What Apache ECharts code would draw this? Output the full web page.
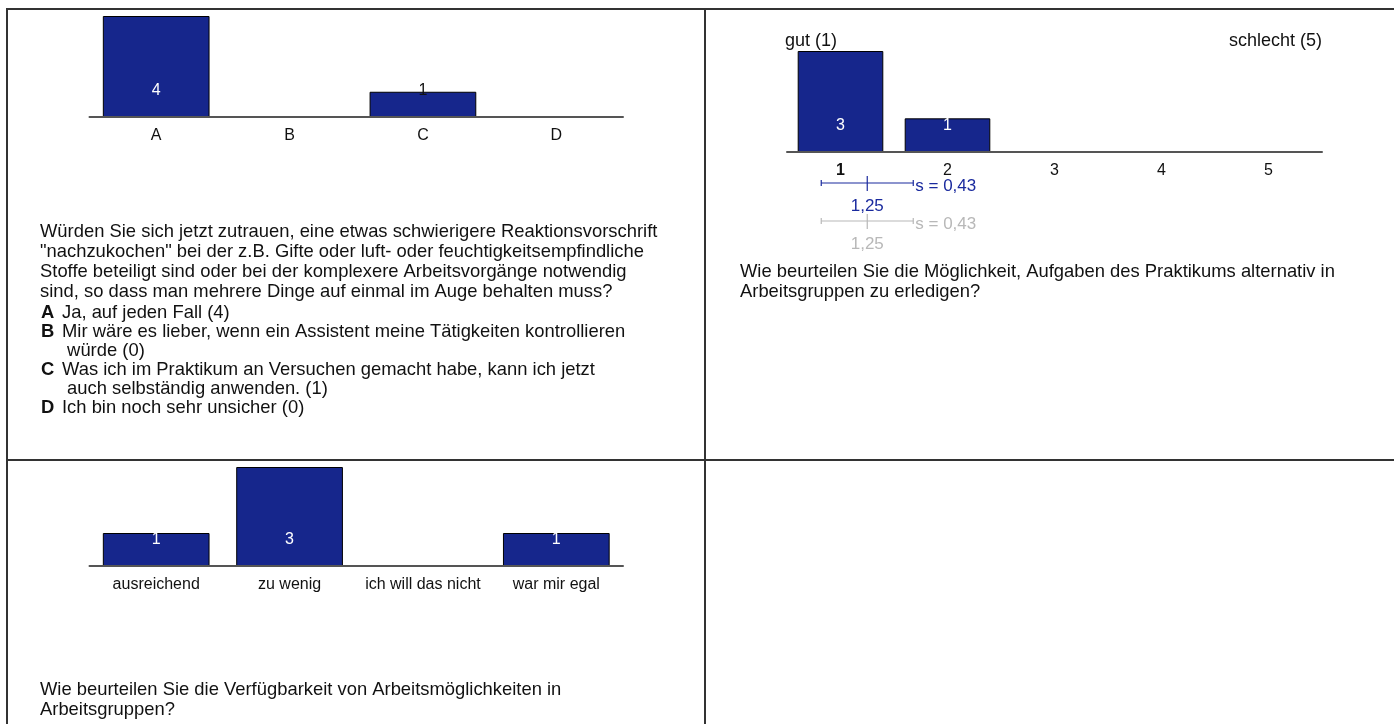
<!DOCTYPE html>
<html>
<head>
<meta charset="utf-8">
<script src="https://cdn.jsdelivr.net/npm/echarts@6/dist/echarts.min.js"></script>
<style>
html, body { margin: 0; padding: 0; background: #fff; }
#main { width: 1394px; height: 724px; }
</style>
</head>
<body>
<div id="main"></div>
<script>
// Daten der drei Fragen
var catsA = ['A', 'B', 'C', 'D'];
var valsA = [4, 0, 1, 0];
var catsB = ['1', '2', '3', '4', '5'];
var valsB = [3, 1, 0, 0, 0];
var catsC = ['ausreichend', 'zu wenig', 'ich will das nicht', 'war mir egal'];
var valsC = [1, 3, 0, 1];
// Mittelwert / Standardabweichung (Frage 2)
var meanB = [1.25, 1.25];
var sdB = [0.43, 0.43];

// Texte
var questionA = [
    'Würden Sie sich jetzt zutrauen, eine etwas schwierigere Reaktionsvorschrift',
    '"nachzukochen" bei der z.B. Gifte oder luft- oder feuchtigkeitsempfindliche',
    'Stoffe beteiligt sind oder bei der komplexere Arbeitsvorgänge notwendig',
    'sind, so dass man mehrere Dinge auf einmal im Auge behalten muss?'
];
var optionsA = [
    ['A', 'Ja, auf jeden Fall (4)'],
    ['B', 'Mir wäre es lieber, wenn ein Assistent meine Tätigkeiten kontrollieren', ' würde (0)'],
    ['C', 'Was ich im Praktikum an Versuchen gemacht habe, kann ich jetzt', ' auch selbständig anwenden. (1)'],
    ['D', 'Ich bin noch sehr unsicher (0)']
];
var questionB = [
    'Wie beurteilen Sie die Möglichkeit, Aufgaben des Praktikums alternativ in',
    'Arbeitsgruppen zu erledigen?'
];
var questionC = [
    'Wie beurteilen Sie die Verfügbarkeit von Arbeitsmöglichkeiten in',
    'Arbeitsgruppen?'
];

var FONT = '"Liberation Sans", Arial, sans-serif';
var TXT = '18.4px ' + FONT;
var BAR_COLOR = '#16268c';
var ROW_COLORS = ['#1a2a9e', '#b8b8b8'];

var chart = echarts.init(document.getElementById('main'));

function barData(vals) {
    var max = Math.max.apply(null, vals);
    return vals.map(function (v) {
        return {
            value: v,
            label: { color: v / max < 0.3 ? '#111' : '#fff' }
        };
    });
}

function barSeries(idx, vals) {
    return {
        type: 'bar',
        xAxisIndex: idx,
        yAxisIndex: idx,
        barCategoryGap: '20%',
        data: barData(vals),
        itemStyle: { color: BAR_COLOR, borderColor: '#000', borderWidth: 1 },
        label: {
            show: true,
            position: 'insideBottom',
            distance: 18,
            fontFamily: FONT,
            fontSize: 16,
            formatter: function (p) { return p.value ? String(p.value) : ''; }
        },
        emphasis: { disabled: true },
        animation: false
    };
}

function catAxis(idx, cats) {
    return {
        type: 'category',
        gridIndex: idx,
        data: cats,
        z: 5,
        axisLine: { lineStyle: { color: '#555', width: 2 } },
        axisTick: { inside: true, alignWithLabel: true, length: 5, lineStyle: { color: '#111' } },
        axisLabel: { interval: 0, color: '#111', fontFamily: FONT, fontSize: 16, margin: 11 }
    };
}

function valAxis(idx, vals) {
    return { type: 'value', gridIndex: idx, min: 0, max: Math.max.apply(null, vals), show: false };
}

function textLines(lines, x, y0, step) {
    return lines.map(function (t, i) {
        return {
            type: 'text', left: x, top: y0 + i * step,
            style: { text: t, font: TXT, fill: '#111' }
        };
    });
}

var graphics = [];
// Rahmen
var border = { stroke: '#333', lineWidth: 2 };
graphics.push({ type: 'line', shape: { x1: 7, y1: 9, x2: 1394, y2: 9 }, style: border });
graphics.push({ type: 'line', shape: { x1: 7, y1: 8, x2: 7, y2: 724 }, style: border });
graphics.push({ type: 'line', shape: { x1: 705, y1: 8, x2: 705, y2: 724 }, style: border });
graphics.push({ type: 'line', shape: { x1: 7, y1: 460, x2: 1394, y2: 460 }, style: border });

graphics = graphics.concat(textLines(questionA, 40, 223, 20));
var optY = 304;
optionsA.forEach(function (o) {
    graphics.push({ type: 'text', left: 41, top: optY, style: { text: o[0], font: 'bold ' + TXT, fill: '#111' } });
    graphics.push({ type: 'text', left: 62, top: optY, style: { text: o[1], font: TXT, fill: '#111' } });
    optY += 19;
    if (o[2]) {
        graphics.push({ type: 'text', left: 62, top: optY, style: { text: o[2], font: TXT, fill: '#111' } });
        optY += 19;
    }
});
graphics = graphics.concat(textLines(questionB, 740, 263, 20));
graphics = graphics.concat(textLines(questionC, 40, 681, 20));
graphics.push({ type: 'text', left: 785, top: 32, style: { text: 'gut (1)', font: '18px ' + FONT, fill: '#111' } });
graphics.push({ type: 'text', right: 72, top: 32, style: { text: 'schlecht (5)', font: '18px ' + FONT, fill: '#111' } });

var catsBItems = catsB.map(function (c, i) {
    return i === 0 ? { value: c, textStyle: { fontWeight: 'bold' } } : c;
});

var errData = meanB.map(function (m, i) { return [m, sdB[i], i]; });

function fmt(v) { return v.toFixed(2).replace('.', ','); }

var option = {
    backgroundColor: '#fff',
    animation: false,
    grid: [
        { left: 89.5, top: 16, width: 533.5, height: 101 },
        { left: 787, top: 51, width: 535, height: 101 },
        { left: 89.5, top: 467, width: 533.5, height: 99 }
    ],
    xAxis: [
        catAxis(0, catsA),
        catAxis(1, catsBItems),
        catAxis(2, catsC),
        { type: 'value', gridIndex: 1, min: 0.5, max: 5.5, show: false }
    ],
    yAxis: [valAxis(0, valsA), valAxis(1, valsB), valAxis(2, valsC)],
    series: [
        barSeries(0, valsA),
        barSeries(1, valsB),
        barSeries(2, valsC),
        {
            type: 'custom',
            xAxisIndex: 3,
            yAxisIndex: 1,
            clip: false,
            data: errData,
            renderItem: function (params, api) {
                var m = api.value(0), s = api.value(1), row = api.value(2);
                var c = api.coord([m, 0]);
                var lo = api.coord([m - s, 0])[0];
                var hi = api.coord([m + s, 0])[0];
                var y = c[1] + 31 + row * 38;
                var col = ROW_COLORS[row];
                var ls = { stroke: col, lineWidth: 1.2 };
                return {
                    type: 'group',
                    children: [
                        { type: 'line', shape: { x1: lo, y1: y, x2: hi, y2: y }, style: ls },
                        { type: 'line', shape: { x1: lo, y1: y - 3, x2: lo, y2: y + 3 }, style: ls },
                        { type: 'line', shape: { x1: hi, y1: y - 3, x2: hi, y2: y + 3 }, style: ls },
                        { type: 'line', shape: { x1: c[0], y1: y - 7, x2: c[0], y2: y + 8 }, style: ls },
                        { type: 'text', x: hi + 2, y: y + 3, style: { text: 's = ' + fmt(s), font: '17px ' + FONT, fill: col, verticalAlign: 'middle' } },
                        { type: 'text', x: c[0], y: y + 23, style: { text: fmt(m), font: '17px ' + FONT, fill: col, align: 'center', verticalAlign: 'middle' } }
                    ]
                };
            }
        }
    ],
    graphic: graphics
};

chart.setOption(option);
</script>
</body>
</html>
